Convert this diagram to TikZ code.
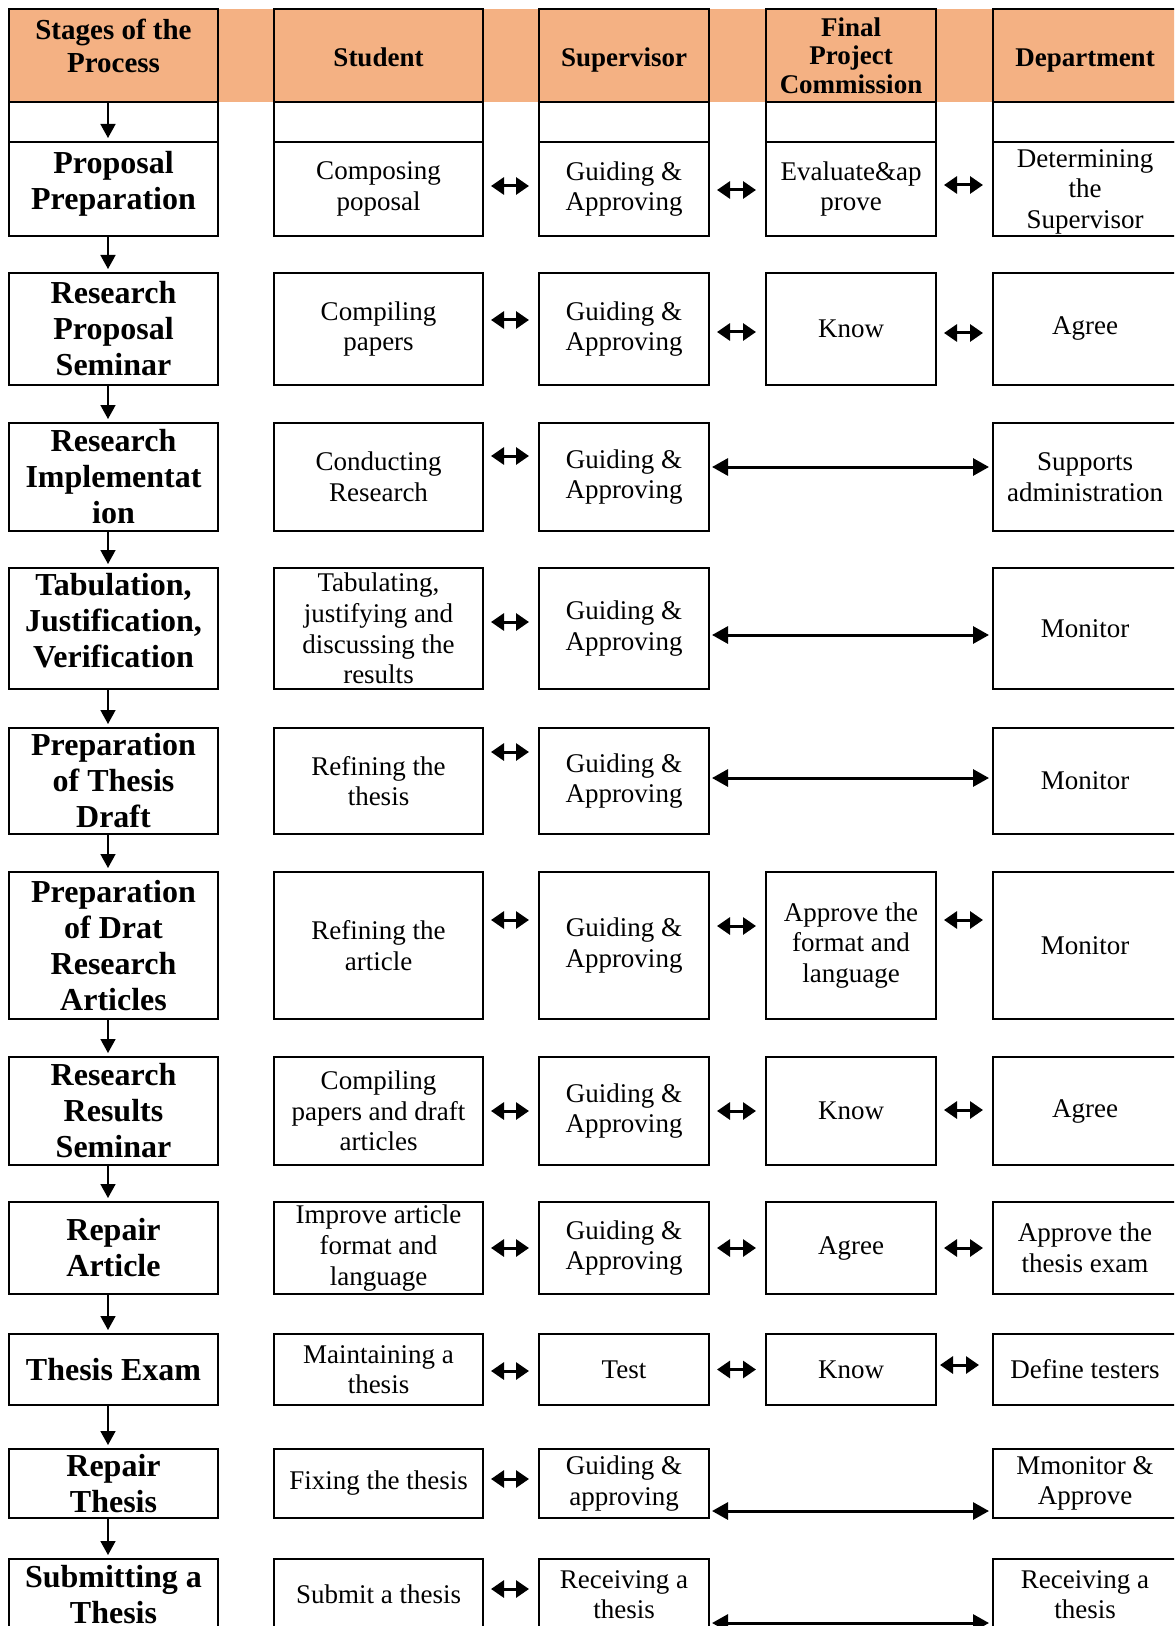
\documentclass[tikz,border=0pt]{standalone}
\usepackage{fontspec}
\setmainfont{Liberation Serif}
\usetikzlibrary{arrows.meta}
\definecolor{hdrorange}{RGB}{244,177,131}

\begin{document}
\begin{tikzpicture}[x=0.5pt,y=-0.5pt,
	box/.style={draw,line width=1pt,align=center,inner sep=1pt,font=\fontsize{13.5}{15.3}\selectfont},
	stagebox/.style={box,minimum width=104.5pt,font=\bfseries\fontsize{16}{18}\selectfont},
	studentbox/.style={box,minimum width=104.5pt},
	supbox/.style={box,minimum width=85pt},
	fpcbox/.style={box,minimum width=85pt},
	deptbox/.style={box,minimum width=92pt},
	head/.style={fill=hdrorange,minimum height=46.5pt,font=\bfseries\fontsize{13.5}{14.3}\selectfont},
	headone/.style={head,text height=13pt,text depth=1.5pt},
	blank/.style={minimum height=20pt},
	flow/.style={-{Triangle[length=7pt,width=7.5pt]},line width=0.8pt,shorten >=1.5pt},
	pair/.style={{Triangle[length=6.5pt,width=8.5pt]}-{Triangle[length=6.5pt,width=8.5pt]},line width=1.5pt,shorten <=3.5pt,shorten >=4.5pt},
	longpair/.style={{Triangle[length=8pt,width=8.5pt]}-{Triangle[length=8pt,width=8.5pt]},line width=1.5pt,shorten <=1pt,shorten >=1.5pt}]
			\useasboundingbox (0,0) rectangle (1174,1626);
			\clip (0,0) rectangle (1174,1626);
			\fill[hdrorange] (9,9) rectangle (1174,102);
			\node[stagebox,head,text depth=10pt,font=\bfseries\fontsize{14.5}{16.5}\selectfont] (hst) at (113.5,55.5) {Stages of the\\Process};
			\node[studentbox,headone] (hsu) at (378.5,55.5) {Student};
			\node[supbox,headone] (hsv) at (624,55.5) {Supervisor};
			\node[fpcbox,head] (hfp) at (851,55.5) {Final\\Project\\Commission};
			\node[deptbox,headone] (hdp) at (1085,55.5) {Department};
			\node[stagebox,blank] (est) at (113.5,122) {};
			\node[studentbox,blank] (esu) at (378.5,122) {};
			\node[supbox,blank] (esv) at (624,122) {};
			\node[fpcbox,blank] (efp) at (851,122) {};
			\node[deptbox,blank] (edp) at (1085,122) {};
			\node[stagebox,minimum height=47pt,text depth=8.5pt] (st1) at (113.5,189) {Proposal\\Preparation};
			\node[studentbox,minimum height=47pt] (su1) at (378.5,189) {Composing\\poposal};
			\node[supbox,minimum height=47pt] (sv1) at (624,189) {Guiding \&\\Approving};
			\node[fpcbox,minimum height=47pt] (fp1) at (851,189) {Evaluate\&ap\\prove};
			\node[deptbox,minimum height=47pt,text depth=0pt] (dp1) at (1085,189) {Determining\\the\\Supervisor};
			\node[stagebox,minimum height=56pt] (st2) at (113.5,329) {Research\\Proposal\\Seminar};
			\node[studentbox,minimum height=56pt] (su2) at (378.5,329) {Compiling\\papers};
			\node[supbox,minimum height=56pt] (sv2) at (624,329) {Guiding \&\\Approving};
			\node[fpcbox,minimum height=56pt] (fp2) at (851,329) {Know};
			\node[deptbox,minimum height=56pt] (dp2) at (1085,329) {Agree};
			\node[stagebox,minimum height=54pt] (st3) at (113.5,477) {Research\\Implementat\\ion};
			\node[studentbox,minimum height=54pt] (su3) at (378.5,477) {Conducting\\Research};
			\node[supbox,minimum height=54pt] (sv3) at (624,477) {Guiding \&\\Approving};
			\node[deptbox,minimum height=54pt] (dp3) at (1085,477) {Supports\\administration};
			\node[stagebox,minimum height=60.5pt,text depth=8pt] (st4) at (113.5,628.5) {Tabulation,\\Justification,\\Verification};
			\node[studentbox,minimum height=60.5pt] (su4) at (378.5,628.5) {Tabulating,\\justifying and\\discussing the\\results};
			\node[supbox,minimum height=60.5pt] (sv4) at (624,628.5) {Guiding \&\\Approving};
			\node[deptbox,minimum height=60.5pt] (dp4) at (1085,628.5) {Monitor};
			\node[stagebox,minimum height=53pt] (st5) at (113.5,781) {Preparation\\of Thesis\\Draft};
			\node[studentbox,minimum height=53pt] (su5) at (378.5,781) {Refining the\\thesis};
			\node[supbox,minimum height=53pt] (sv5) at (624,781) {Guiding \&\\Approving};
			\node[deptbox,minimum height=53pt] (dp5) at (1085,781) {Monitor};
			\node[stagebox,minimum height=73.5pt] (st6) at (113.5,945.5) {Preparation\\of Drat\\Research\\Articles};
			\node[studentbox,minimum height=73.5pt] (su6) at (378.5,945.5) {Refining the\\article};
			\node[supbox,minimum height=73.5pt] (sv6) at (624,945.5) {Guiding \&\\Approving};
			\node[fpcbox,minimum height=73.5pt] (fp6) at (851,945.5) {Approve the\\format and\\language};
			\node[deptbox,minimum height=73.5pt] (dp6) at (1085,945.5) {Monitor};
			\node[stagebox,minimum height=54pt] (st7) at (113.5,1111) {Research\\Results\\Seminar};
			\node[studentbox,minimum height=54pt] (su7) at (378.5,1111) {Compiling\\papers and draft\\articles};
			\node[supbox,minimum height=54pt] (sv7) at (624,1111) {Guiding \&\\Approving};
			\node[fpcbox,minimum height=54pt] (fp7) at (851,1111) {Know};
			\node[deptbox,minimum height=54pt] (dp7) at (1085,1111) {Agree};
			\node[stagebox,minimum height=46pt] (st8) at (113.5,1248) {Repair\\Article};
			\node[studentbox,minimum height=46pt] (su8) at (378.5,1248) {Improve article\\format and\\language};
			\node[supbox,minimum height=46pt] (sv8) at (624,1248) {Guiding \&\\Approving};
			\node[fpcbox,minimum height=46pt] (fp8) at (851,1248) {Agree};
			\node[deptbox,minimum height=46pt] (dp8) at (1085,1248) {Approve the\\thesis exam};
			\node[stagebox,minimum height=35.5pt] (st9) at (113.5,1369.5) {Thesis Exam};
			\node[studentbox,minimum height=35.5pt] (su9) at (378.5,1369.5) {Maintaining a\\thesis};
			\node[supbox,minimum height=35.5pt] (sv9) at (624,1369.5) {Test};
			\node[fpcbox,minimum height=35.5pt] (fp9) at (851,1369.5) {Know};
			\node[deptbox,minimum height=35.5pt] (dp9) at (1085,1369.5) {Define testers};
			\node[stagebox,minimum height=34.5pt] (st10) at (113.5,1483.5) {Repair\\Thesis};
			\node[studentbox,minimum height=34.5pt] (su10) at (378.5,1483.5) {Fixing the thesis};
			\node[supbox,minimum height=34.5pt] (sv10) at (624,1483.5) {Guiding \&\\approving};
			\node[deptbox,minimum height=34.5pt] (dp10) at (1085,1483.5) {Mmonitor \&\\Approve};
			\node[stagebox,minimum height=35.5pt] (st11) at (113.5,1594.5) {Submitting a\\Thesis};
			\node[studentbox,minimum height=35.5pt] (su11) at (378.5,1594.5) {Submit a thesis};
			\node[supbox,minimum height=35.5pt] (sv11) at (624,1594.5) {Receiving a\\thesis};
			\node[deptbox,minimum height=35.5pt] (dp11) at (1085,1594.5) {Receiving a\\thesis};
			\draw[flow] ([xshift=-2.75pt]hst.south) -- ([xshift=-2.75pt]st1.north);
			\draw[flow] ([xshift=-2.75pt]st1.south) -- ([xshift=-2.75pt]st2.north);
			\draw[flow] ([xshift=-2.75pt]st2.south) -- ([xshift=-2.75pt]st3.north);
			\draw[flow] ([xshift=-2.75pt]st3.south) -- ([xshift=-2.75pt]st4.north);
			\draw[flow] ([xshift=-2.75pt]st4.south) -- ([xshift=-2.75pt]st5.north);
			\draw[flow] ([xshift=-2.75pt]st5.south) -- ([xshift=-2.75pt]st6.north);
			\draw[flow] ([xshift=-2.75pt]st6.south) -- ([xshift=-2.75pt]st7.north);
			\draw[flow] ([xshift=-2.75pt]st7.south) -- ([xshift=-2.75pt]st8.north);
			\draw[flow] ([xshift=-2.75pt]st8.south) -- ([xshift=-2.75pt]st9.north);
			\draw[flow] ([xshift=-2.75pt]st9.south) -- ([xshift=-2.75pt]st10.north);
			\draw[flow] ([xshift=-2.75pt]st10.south) -- ([xshift=-2.75pt]st11.north);
			\draw[pair] ([yshift=1.5pt]su1.east) -- ([yshift=1.5pt]sv1.west);
			\draw[pair] ([yshift=-0.5pt]sv1.east) -- ([yshift=-0.5pt]fp1.west);
			\draw[pair] ([yshift=2pt]fp1.east) -- ([yshift=2pt]dp1.west);
			\draw[pair] ([yshift=4.5pt]su2.east) -- ([yshift=4.5pt]sv2.west);
			\draw[pair] ([yshift=-1.5pt]sv2.east) -- ([yshift=-1.5pt]fp2.west);
			\draw[pair] ([yshift=-2pt]fp2.east) -- ([yshift=-2pt]dp2.west);
			\draw[pair] ([yshift=10.5pt]su3.east) -- ([yshift=10.5pt]sv3.west);
			\draw[longpair] ([yshift=5pt]sv3.east) -- ([yshift=5pt]dp3.west);
			\draw[pair] ([yshift=3.25pt]su4.east) -- ([yshift=3.25pt]sv4.west);
			\draw[longpair] ([yshift=-3.25pt]sv4.east) -- ([yshift=-3.25pt]dp4.west);
			\draw[pair] ([yshift=14.5pt]su5.east) -- ([yshift=14.5pt]sv5.west);
			\draw[longpair] ([yshift=1.5pt]sv5.east) -- ([yshift=1.5pt]dp5.west);
			\draw[pair] ([yshift=12.75pt]su6.east) -- ([yshift=12.75pt]sv6.west);
			\draw[pair] ([yshift=9.75pt]sv6.east) -- ([yshift=9.75pt]fp6.west);
			\draw[pair] ([yshift=12.75pt]fp6.east) -- ([yshift=12.75pt]dp6.west);
			\draw[pair] (su7.east) -- (sv7.west);
			\draw[pair] (sv7.east) -- (fp7.west);
			\draw[pair] ([yshift=0.5pt]fp7.east) -- ([yshift=0.5pt]dp7.west);
			\draw[pair] (su8.east) -- (sv8.west);
			\draw[pair] (sv8.east) -- (fp8.west);
			\draw[pair] (fp8.east) -- (dp8.west);
			\draw[pair] ([yshift=-0.75pt]su9.east) -- ([yshift=-0.75pt]sv9.west);
			\draw[pair] (sv9.east) -- (fp9.west);
			\draw[pair,shorten <=1.5pt,shorten >=6.5pt] ([yshift=2.25pt]fp9.east) -- ([yshift=2.25pt]dp9.west);
			\draw[pair] ([yshift=2.25pt]su10.east) -- ([yshift=2.25pt]sv10.west);
			\draw[longpair] ([yshift=-13.75pt]sv10.east) -- ([yshift=-13.75pt]dp10.west);
			\draw[pair] ([yshift=2.75pt]su11.east) -- ([yshift=2.75pt]sv11.west);
			\draw[longpair] ([yshift=-14.25pt]sv11.east) -- ([yshift=-14.25pt]dp11.west);
			\end{tikzpicture}
\end{document}
